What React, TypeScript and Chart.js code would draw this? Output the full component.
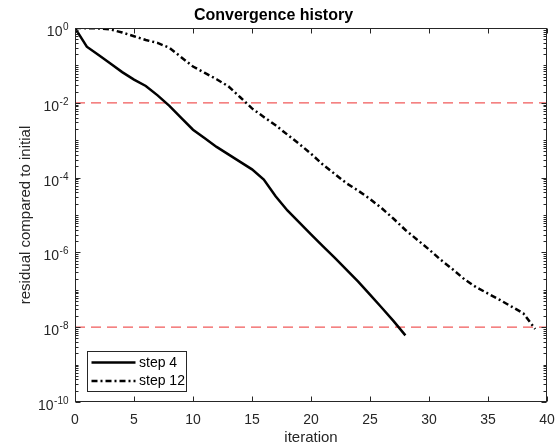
import React, { useEffect, useRef } from 'react';
import { Chart, registerables } from 'chart.js';

Chart.register(...registerables);

// ---------- data ----------
const titleText = 'Convergence history';
const xAxisLabel = 'iteration';
const yAxisLabel = 'residual compared to initial';

const iterStep4 = [0, 1, 2, 3, 4, 5, 6, 7, 8, 9, 10, 11, 12, 13, 14, 15, 16, 17, 18, 19, 20, 21, 22, 23, 24, 25, 26, 27, 28];
const residualStep4 = [
  1, 0.316, 0.19, 0.112, 0.0661, 0.0417, 0.0282, 0.0158, 0.00832, 0.00398,
  0.00191, 0.00112, 6.61e-4, 4.17e-4, 2.63e-4, 1.66e-4, 8.91e-5, 3.16e-5, 1.32e-5, 6.31e-6,
  3.02e-6, 1.48e-6, 7.24e-7, 3.47e-7, 1.66e-7, 7.41e-8, 3.31e-8, 1.45e-8, 6.03e-9,
];

const iterStep12 = [0, 1, 2, 3, 4, 5, 6, 7, 8, 9, 10, 11, 12, 13, 14, 15, 16, 17, 18, 19, 20, 21, 22, 23, 24, 25, 26, 27, 28, 29, 30, 31, 32, 33, 34, 35, 36, 37, 38, 39];
const residualStep12 = [
  1, 0.99, 0.977, 0.912, 0.759, 0.603, 0.479, 0.398, 0.295, 0.166,
  0.0933, 0.0631, 0.0427, 0.0275, 0.0141, 0.00708, 0.00417, 0.00251, 0.00141, 7.94e-4,
  4.37e-4, 2.24e-4, 1.26e-4, 7.08e-5, 4.47e-5, 2.69e-5, 1.51e-5, 7.94e-6, 3.98e-6, 2.19e-6,
  1.2e-6, 6.31e-7, 3.55e-7, 1.91e-7, 1.17e-7, 7.94e-8, 5.37e-8, 3.55e-8, 2.34e-8, 8.91e-9,
];

const seriesLabels = ['step 4', 'step 12'];
const thresholdValues = [1e-2, 1e-8];

const xMin = 0;
const xMax = 40;
const xTickStep = 5;
const yMin = 1e-10;
const yMax = 1;
const yMajorExponents = [0, -2, -4, -6, -8, -10];
const yTickBase = '10';

// ---------- styles ----------
const FONT = "'Liberation Sans', Arial, Helvetica, sans-serif";
const AXIS_COLOR = '#262626';
const RED = '#f15a5a';

const framePlugin = {
  id: 'matlabFrame',
  afterDatasetsDraw(chart: any) {
    const { ctx, chartArea: a, scales } = chart;
    const xs = scales.x;
    const ys = scales.y;
    const L = Math.round(a.left) + 0.5;
    const R = Math.round(a.right) - 0.5;
    const T = Math.round(a.top) + 0.5;
    const B = Math.round(a.bottom) - 0.5;
    ctx.save();
    ctx.strokeStyle = AXIS_COLOR;
    ctx.lineWidth = 1;
    ctx.setLineDash([]);
    ctx.strokeRect(L, T, R - L, B - T);
    ctx.beginPath();
    for (let v = xMin; v <= xMax; v += xTickStep) {
      const px = Math.round(xs.getPixelForValue(v)) + 0.5;
      ctx.moveTo(px, B);
      ctx.lineTo(px, B - 5);
      ctx.moveTo(px, T);
      ctx.lineTo(px, T + 5);
    }
    const eMin = Math.round(Math.log10(yMin));
    const eMax = Math.round(Math.log10(yMax));
    for (let e = eMin; e <= eMax; e++) {
      for (let k = 1; k <= 9; k++) {
        const v = k * Math.pow(10, e);
        if (v > yMax * 1.0001) break;
        const py = Math.round(ys.getPixelForValue(v)) + 0.5;
        const len = k === 1 && yMajorExponents.includes(e) ? 5 : 3;
        ctx.moveTo(L, py);
        ctx.lineTo(L + len, py);
        ctx.moveTo(R, py);
        ctx.lineTo(R - len, py);
      }
    }
    ctx.stroke();

    // y tick labels: 10 with superscript exponent
    ctx.fillStyle = AXIS_COLOR;
    ctx.textBaseline = 'alphabetic';
    ctx.textAlign = 'left';
    for (const e of yMajorExponents) {
      const py = ys.getPixelForValue(Math.pow(10, e));
      const expStr = String(e);
      ctx.font = `10px ${FONT}`;
      const we = ctx.measureText(expStr).width;
      ctx.font = `14px ${FONT}`;
      const wb = ctx.measureText(yTickBase).width;
      const right = a.left - 6.5;
      const xb = right - we - wb - 0.5;
      ctx.fillText(yTickBase, xb, py + 8);
      ctx.font = `10px ${FONT}`;
      ctx.fillText(expStr, right - we, py + 2);
    }
    ctx.restore();
  },
  afterDraw(chart: any) {
    const { ctx, chartArea: a } = chart;
    const items = chart.data.datasets.filter((d: any) => seriesLabels.includes(d.label));
    const boxL = Math.round(a.left + 12) + 0.5;
    const boxB = Math.round(a.bottom - 11) + 0.5;
    const boxW = 99;
    const rowH = 18.5;
    const boxH = 40;
    const boxT = boxB - boxH;
    ctx.save();
    ctx.fillStyle = '#ffffff';
    ctx.fillRect(boxL, boxT, boxW, boxH);
    ctx.strokeStyle = AXIS_COLOR;
    ctx.lineWidth = 1;
    ctx.setLineDash([]);
    ctx.strokeRect(boxL, boxT, boxW, boxH);
    items.forEach((d: any, i: number) => {
      const cy = boxT + 11 + i * rowH;
      ctx.beginPath();
      ctx.strokeStyle = d.borderColor;
      ctx.lineWidth = d.borderWidth;
      ctx.setLineDash(d.borderDash || []);
      ctx.moveTo(boxL + 4, cy);
      ctx.lineTo(boxL + 48, cy);
      ctx.stroke();
      ctx.setLineDash([]);
      ctx.fillStyle = '#000000';
      ctx.font = `14px ${FONT}`;
      ctx.textAlign = 'left';
      ctx.textBaseline = 'middle';
      ctx.fillText(d.label, boxL + 51.5, cy + 0.5);
    });
    ctx.restore();
  },
};

export default function App() {
  const canvasRef = useRef<HTMLCanvasElement | null>(null);

  useEffect(() => {
    if (!canvasRef.current) return;
    const toPoints = (xs: number[], ys: number[]) => xs.map((x, i) => ({ x, y: ys[i] }));
    const datasets: any[] = [
      {
        label: seriesLabels[0],
        data: toPoints(iterStep4, residualStep4),
        borderColor: '#000000',
        borderWidth: 2.5,
        borderDash: [],
        pointRadius: 0,
        fill: false,
        tension: 0,
      },
      {
        label: seriesLabels[1],
        data: toPoints(iterStep12, residualStep12),
        borderColor: '#000000',
        borderWidth: 2.5,
        borderDash: [6, 3, 2, 3],
        pointRadius: 0,
        fill: false,
        tension: 0,
      },
      ...thresholdValues.map((t) => ({
        label: 'threshold ' + t,
        data: [
          { x: xMin, y: t },
          { x: xMax, y: t },
        ],
        borderColor: RED,
        borderWidth: 1.3,
        borderDash: [10, 6],
        pointRadius: 0,
        fill: false,
      })),
    ];

    const chart = new Chart(canvasRef.current, {
      type: 'line',
      data: { datasets },
      plugins: [framePlugin],
      options: {
        animation: false,
        responsive: true,
        maintainAspectRatio: false,
        devicePixelRatio: 1,
        events: [],
        layout: { padding: { left: 0, right: 8, top: 0, bottom: 0 } },
        plugins: {
          legend: { display: false },
          tooltip: { enabled: false },
          title: {
            display: true,
            text: titleText,
            color: '#000000',
            font: { family: FONT, size: 16, weight: 'bold' },
            padding: { top: 5.8, bottom: 3 },
          },
        },
        scales: {
          x: {
            type: 'linear',
            min: xMin,
            max: xMax,
            grid: { display: false, drawTicks: false },
            border: { display: false },
            ticks: {
              stepSize: xTickStep,
              color: AXIS_COLOR,
              font: { family: FONT, size: 14 },
              padding: 10,
              maxRotation: 0,
            },
            title: {
              display: true,
              text: xAxisLabel,
              color: AXIS_COLOR,
              font: { family: FONT, size: 15 },
              padding: { top: 0, bottom: 1 },
            },
            afterFit(scale: any) {
              scale.height = 46;
              scale.paddingLeft = 0;
              scale.paddingRight = 0;
            },
          },
          y: {
            type: 'logarithmic',
            min: yMin,
            max: yMax,
            grid: { display: false, drawTicks: false },
            border: { display: false },
            ticks: { display: false },
            title: {
              display: true,
              text: yAxisLabel,
              color: AXIS_COLOR,
              font: { family: FONT, size: 15 },
              padding: { top: 16.5, bottom: 0 },
            },
            afterFit(scale: any) {
              scale.width = 75;
              scale.paddingTop = 0;
              scale.paddingBottom = 0;
            },
          },
        },
      } as any,
    });
    return () => chart.destroy();
  }, []);

  return (
    <div style={{ position: 'absolute', left: 0, top: 0, width: 555, height: 448, background: '#ffffff' }}>
      <canvas ref={canvasRef} />
    </div>
  );
}
